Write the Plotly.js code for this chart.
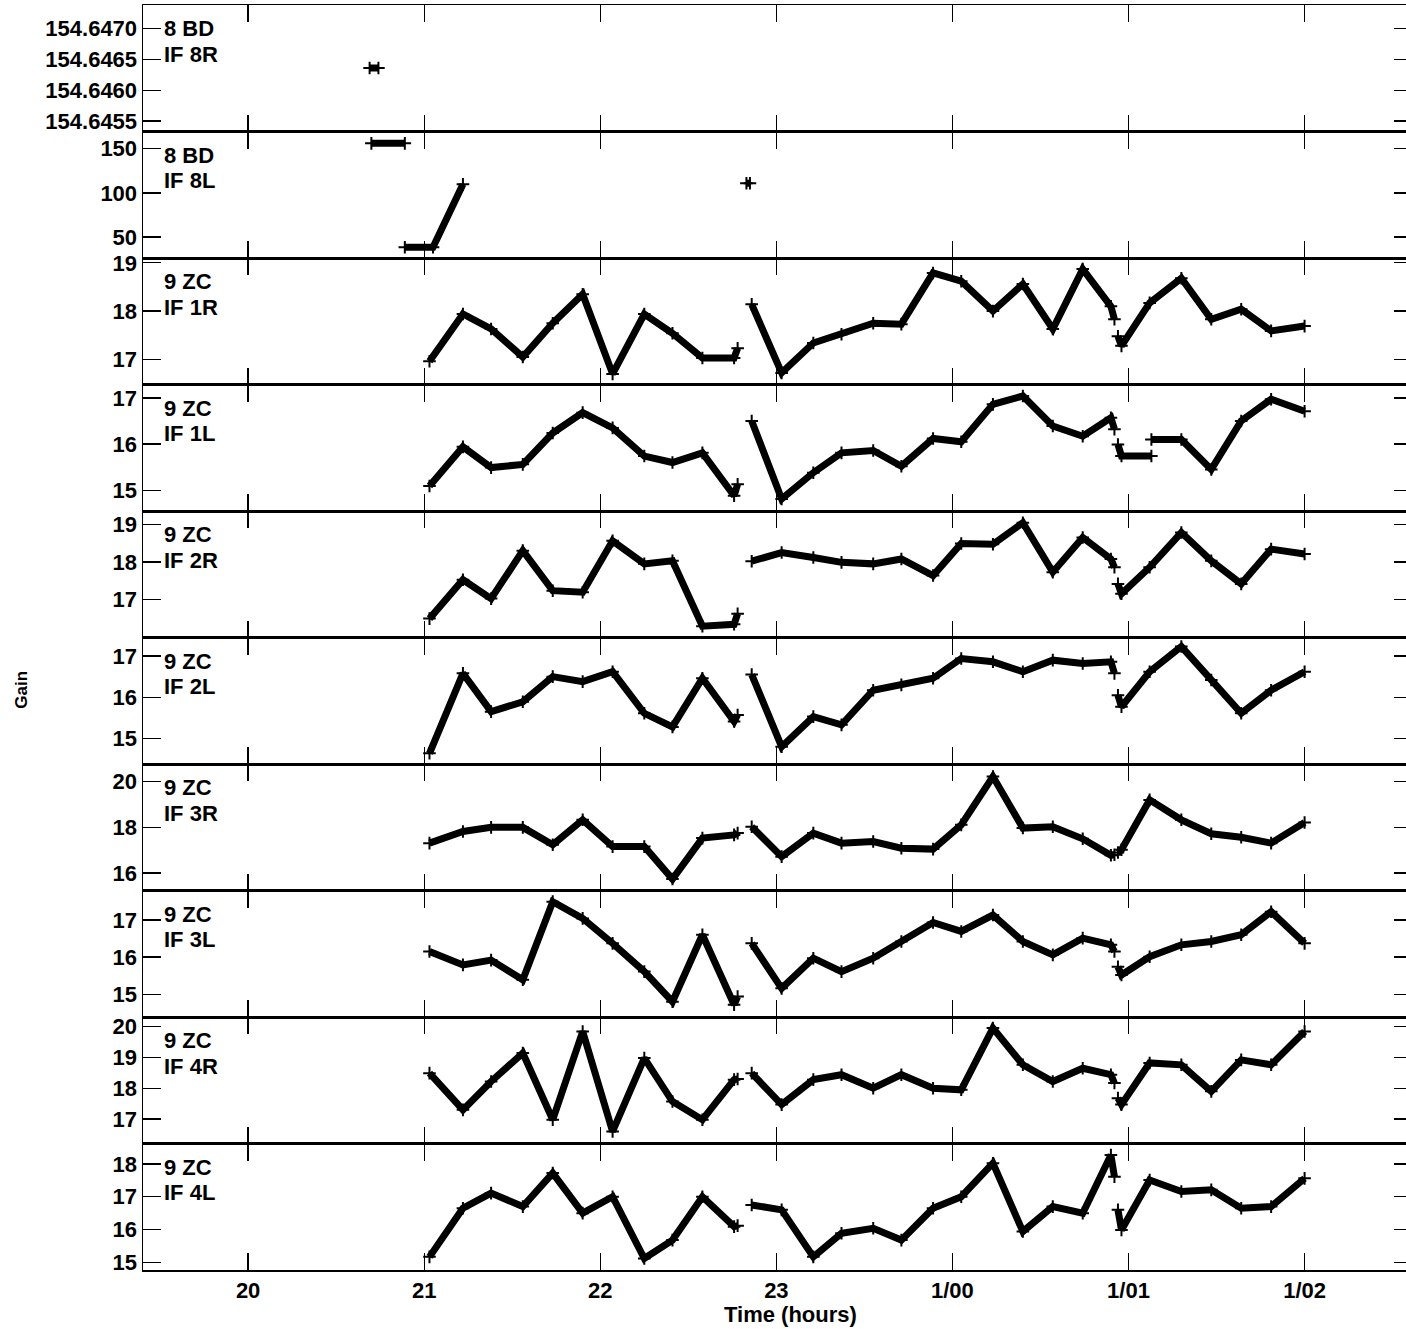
<!DOCTYPE html>
<html>
<head>
<meta charset="utf-8">
<script src="https://cdn.plot.ly/plotly-3.0.1.min.js"></script>
<style>
  html, body { margin: 0; padding: 0; overflow: hidden; background: #fff; }
  #plot { width: 1412px; height: 1329px; }
</style>
</head>
<body>
<div id="plot"></div>
<script>
// scan times (hours) shared by the 9 ZC panels, three solution blocks
var hoursA = [21.03, 21.22, 21.38, 21.56, 21.73, 21.90, 22.07, 22.25, 22.41, 22.58, 22.76, 22.78];
var hoursB = [22.86, 23.03, 23.21, 23.37, 23.55, 23.71, 23.89, 24.05, 24.23, 24.40, 24.57, 24.74, 24.90, 24.92];
var hoursC = [24.94, 24.96, 25.12, 25.30, 25.47, 25.64, 25.81, 26.00];
var hoursC_1L = [24.94, 24.96, 25.13, 25.13, 25.13, 25.30, 25.47, 25.64, 25.81, 26.00];

// 8 BD
var hours8R = [20.69, 20.74];
var gain8R = [154.64636, 154.64636];
var hours8L = [20.70, 20.89, 20.89, 20.89, 21.05, 21.22, 21.22, 22.83, 22.85];
var gain8L = [156.1, 156.1, null, 38.5, 38.5, 109.7, null, 111, 111];

// 9 ZC gains per IF, blocks A / B / C
var gain1R = [[16.96, 17.94, 17.63, 17.05, 17.75, 18.35, 16.70, 17.94, 17.54, 17.03, 17.03, 17.23],
              [18.14, 16.72, 17.34, 17.52, 17.75, 17.73, 18.79, 18.62, 18.00, 18.56, 17.63, 18.87, 18.10, 17.83],
              [17.48, 17.28, 18.17, 18.68, 17.83, 18.04, 17.59, 17.69]];
var gain1L = [[15.09, 15.94, 15.49, 15.56, 16.24, 16.68, 16.35, 15.74, 15.60, 15.81, 14.88, 15.13],
              [16.50, 14.81, 15.38, 15.81, 15.86, 15.52, 16.12, 16.05, 16.86, 17.04, 16.39, 16.17, 16.57, 16.32],
              [15.99, 15.74, 15.74, null, 16.10, 16.10, 15.45, 16.50, 16.97, 16.71]];
var gain2R = [[16.50, 17.53, 17.03, 18.30, 17.24, 17.20, 18.56, 17.95, 18.03, 16.30, 16.35, 16.63],
              [18.02, 18.25, 18.12, 17.99, 17.95, 18.08, 17.64, 18.49, 18.47, 19.04, 17.73, 18.65, 18.08, 17.86],
              [17.42, 17.16, 17.86, 18.78, 18.03, 17.42, 18.34, 18.21]];
var gain2L = [[14.64, 16.58, 15.65, 15.89, 16.50, 16.38, 16.62, 15.61, 15.28, 16.46, 15.41, 15.57],
              [16.55, 14.80, 15.53, 15.33, 16.17, 16.30, 16.46, 16.94, 16.86, 16.62, 16.90, 16.82, 16.86, 16.58],
              [16.05, 15.77, 16.62, 17.23, 16.42, 15.61, 16.17, 16.62]];
var gain3R = [[17.31, 17.82, 18.00, 18.00, 17.24, 18.33, 17.16, 17.16, 15.74, 17.53, 17.67, 17.75],
              [18.03, 16.72, 17.75, 17.31, 17.38, 17.09, 17.05, 18.11, 20.22, 17.97, 18.03, 17.50, 16.78, 16.80],
              [16.90, 17.02, 19.20, 18.33, 17.72, 17.57, 17.31, 18.21]];
var gain3L = [[16.15, 15.79, 15.92, 15.39, 17.49, 17.04, 16.37, 15.61, 14.80, 16.60, 14.72, 14.94],
              [16.37, 15.16, 15.97, 15.61, 15.97, 16.42, 16.93, 16.69, 17.13, 16.42, 16.06, 16.51, 16.33, 16.15],
              [15.74, 15.52, 16.01, 16.33, 16.42, 16.60, 17.22, 16.37]];
var gain4R = [[18.49, 17.30, 18.22, 19.14, 16.98, 19.84, 16.60, 18.98, 17.57, 16.98, 18.28, 18.30],
              [18.49, 17.47, 18.28, 18.44, 18.00, 18.44, 18.00, 17.95, 19.95, 18.76, 18.22, 18.65, 18.44, 18.17],
              [17.68, 17.47, 18.82, 18.76, 17.90, 18.92, 18.76, 19.84]];
var gain4L = [[15.17, 16.65, 17.11, 16.70, 17.72, 16.50, 17.00, 15.12, 15.68, 17.00, 16.09, 16.12],
              [16.75, 16.60, 15.17, 15.89, 16.04, 15.68, 16.65, 17.00, 18.02, 15.94, 16.70, 16.50, 18.27, 17.61],
              [16.60, 15.99, 17.51, 17.16, 17.21, 16.65, 16.70, 17.56]];

var panelSource = ["8 BD", "8 BD", "9 ZC", "9 ZC", "9 ZC", "9 ZC", "9 ZC", "9 ZC", "9 ZC", "9 ZC"];
var panelIF = ["IF 8R", "IF 8L", "IF 1R", "IF 1L", "IF 2R", "IF 2L", "IF 3R", "IF 3L", "IF 4R", "IF 4L"];
var yTicks = [[154.6455, 154.6460, 154.6465, 154.6470], [50, 100, 150], [17, 18, 19], [15, 16, 17],
              [17, 18, 19], [15, 16, 17], [16, 18, 20], [15, 16, 17], [17, 18, 19, 20], [15, 16, 17, 18]];
var yRanges = [[154.64533, 154.64738], [26.4, 169.5], [16.48, 19.10], [14.55, 17.29], [16.00, 19.35],
               [14.38, 17.45], [15.24, 20.77], [14.39, 17.79], [16.21, 20.31], [14.77, 18.62]];
var xTicks = [20, 21, 22, 23, 24, 25, 26];
var xTickText = ["20", "21", "22", "23", "1/00", "1/01", "1/02"];

var font = { family: "Liberation Sans, Arial, sans-serif", size: 22, color: "#000", weight: "bold" };

function line(x, y, n) {
  return {
    type: "scatter", mode: "lines+markers", x: x, y: y,
    xaxis: n == 1 ? "x" : "x" + n, yaxis: n == 1 ? "y" : "y" + n,
    line: { color: "#000", width: 7 },
    marker: { symbol: "cross-thin-open", size: 9, color: "#000", line: { color: "#000", width: 2 } },
    connectgaps: false, hoverinfo: "x+y"
  };
}

var data = [line(hours8R, gain8R, 1), line(hours8L, gain8L, 2)];
var zc = [gain1R, gain1L, gain2R, gain2L, gain3R, gain3L, gain4R, gain4L];
zc.forEach(function (g, k) {
  var n = k + 3;
  data.push(line(hoursA, g[0], n));
  data.push(line(hoursB, g[1], n));
  data.push(line(k == 1 ? hoursC_1L : hoursC, g[2], n));
});

var layout = {
  width: 1412, height: 1329,
  margin: { l: 143, r: 0, t: 5, b: 59 },
  paper_bgcolor: "#fff", plot_bgcolor: "#fff",
  showlegend: false,
  annotations: [
    { text: "Gain", xref: "paper", yref: "paper", x: -0.0956, y: 0.4585, textangle: -90,
      xanchor: "center", yanchor: "middle",
      showarrow: false, font: { family: font.family, size: 17, color: "#000", weight: "bold" } },
    { text: "Time (hours)", xref: "paper", yref: "paper", x: 0.51, y: -0.0355,
      xanchor: "center", yanchor: "middle",
      showarrow: false, font: { family: font.family, size: 22, color: "#000", weight: "bold" } }
  ]
};

for (var i = 1; i <= 10; i++) {
  var yTop = 1 - (i - 1) / 10, yBot = 1 - i / 10;
  var xa = {
    domain: [0, 1], anchor: i == 1 ? "y" : "y" + i, range: [19.403, 26.61],
    tickvals: xTicks, ticktext: xTickText, ticks: "inside", ticklen: 17, tickwidth: 1.3, tickcolor: "#000",
    showline: true, linecolor: "#000", linewidth: 1.5, mirror: "ticks",
    showgrid: false, zeroline: false, showticklabels: i == 10, tickfont: font
  };
  if (i > 1) xa.matches = "x";
  var ya = {
    domain: [yBot, yTop], anchor: i == 1 ? "x" : "x" + i, range: yRanges[i - 1],
    tickvals: yTicks[i - 1], ticks: "inside", ticklen: 18, tickwidth: 1.3, tickcolor: "#000",
    showline: true, linecolor: "#000", linewidth: 1.5, mirror: "ticks",
    showgrid: false, zeroline: false, tickfont: font
  };
  if (i == 1) ya.tickformat = ".4f";
  layout[i == 1 ? "xaxis" : "xaxis" + i] = xa;
  layout[i == 1 ? "yaxis" : "yaxis" + i] = ya;
  var xr = (i == 1 ? "x" : "x" + i) + " domain", yr = (i == 1 ? "y" : "y" + i) + " domain";
  layout.annotations.push({
    text: panelSource[i - 1], showarrow: false, xref: xr, yref: yr,
    x: 0.0147, y: 0.812, xanchor: "left", yanchor: "middle", font: font
  });
  layout.annotations.push({
    text: panelIF[i - 1], showarrow: false, xref: xr, yref: yr,
    x: 0.0147, y: 0.612, xanchor: "left", yanchor: "middle", font: font
  });
}

Plotly.newPlot("plot", data, layout, { displayModeBar: false, staticPlot: true });
</script>
</body>
</html>
